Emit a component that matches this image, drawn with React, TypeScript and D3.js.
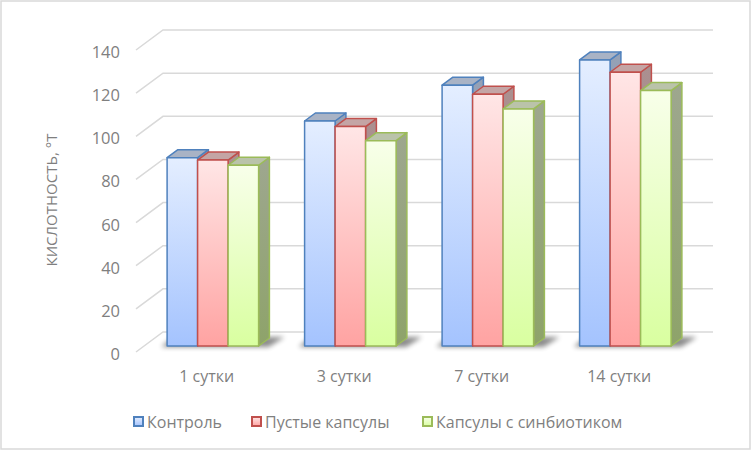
import * as d3 from 'd3';

// Chart data
const categories = ['1 сутки', '3 сутки', '7 сутки', '14 сутки'];
const seriesNames = ['Контроль', 'Пустые капсулы', 'Капсулы с синбиотиком'];
const control = [87.3, 104.3, 120.9, 132.6];
const emptyCapsules = [86.2, 101.7, 116.7, 126.9];
const synbiotic = [83.8, 95.2, 109.9, 118.4];
const yTicks = [0, 20, 40, 60, 80, 100, 120, 140];

const W = 752;
const H = 452;
const font = '"Open Sans", "Noto Sans", sans-serif';
const textColor = '#7f7f7f';
const gridColor = '#d9d9d9';

// depth of the 3d box (front plane -> back wall)
const depth = { dx: 27, dy: -20 };
const barFront = 0.3; // bar front face position inside the depth
const barDepth = 0.4; // bar thickness inside the depth

const styles = [
  { stroke: '#4f81bd', top: '#a9b3c5', side: ['#95a1b6', '#8898b4'], front: ['#e4eeff', '#a4c3fe'] },
  { stroke: '#c0504d', top: '#c4a5a5', side: ['#ab9090', '#a28686'], front: ['#ffe6e6', '#ffa3a2'] },
  { stroke: '#9bbb59', top: '#bac3aa', side: ['#9ea78f', '#8ea36a'], front: ['#f8ffea', '#d9ffa0'] },
];

export default function App() {
  const seriesValues = [control, emptyCapsules, synbiotic];

  const x0 = d3.scaleBand<string>().domain(categories).range([136, 686]);
  const x1 = d3.scaleBand<string>()
    .domain(seriesNames)
    .range([0, x0.bandwidth()])
    .paddingOuter(0.754);
  const y = d3.scaleLinear().domain([0, 140]).range([352, 50]);

  const fx = barFront * depth.dx;
  const fy = barFront * depth.dy;
  const bdx = barDepth * depth.dx;
  const bdy = barDepth * depth.dy;
  const bw = x1.bandwidth();

  return (
    <svg width={W} height={H} style={{ position: 'absolute', left: 0, top: 0 }}>
      <defs>
        {styles.map((s, i) => (
          <g key={i}>
            <linearGradient id={`front${i}`} x1="0" y1="0" x2="0" y2="1">
              <stop offset="0%" stopColor={s.front[0]} />
              <stop offset="100%" stopColor={s.front[1]} />
            </linearGradient>
            <linearGradient id={`side${i}`} x1="0" y1="0" x2="0" y2="1">
              <stop offset="0%" stopColor={s.side[0]} />
              <stop offset="100%" stopColor={s.side[1]} />
            </linearGradient>
          </g>
        ))}
        <filter id="shadowBlur" x="-20%" y="-100%" width="140%" height="300%">
          <feGaussianBlur stdDeviation="2.5" />
        </filter>
      </defs>

      <rect x={1} y={1} width={749} height={448} fill="#fff" stroke={gridColor} strokeWidth={1.5} />

      {/* gridlines: left diagonal + back wall */}
      {yTicks.map((t) => (
        <polyline
          key={t}
          points={`136,${y(t)} ${136 + depth.dx},${y(t) + depth.dy} 713,${y(t) + depth.dy}`}
          fill="none"
          stroke={gridColor}
          strokeWidth={1.5}
        />
      ))}

      {/* y tick labels */}
      {yTicks.map((t) => (
        <text key={t} x={120} y={y(t) + 1.5} textAnchor="end" dominantBaseline="central"
          fontFamily={font} fontSize={16.5} fill={textColor}>
          {t}
        </text>
      ))}

      <text transform="translate(51,200) rotate(-90)" textAnchor="middle" dominantBaseline="central"
        fontFamily={font} fontSize={15} fill={textColor}>
        КИСЛОТНОСТЬ, °Т
      </text>

      {/* floor shadows */}
      {categories.map((c) => {
        const left = (x0(c) ?? 0) + (x1(seriesNames[0]) ?? 0) + fx;
        const right = (x0(c) ?? 0) + (x1(seriesNames[2]) ?? 0) + bw + fx;
        const b = y(0) + fy;
        return (
          <polygon key={c} filter="url(#shadowBlur)" fill="#000" opacity={0.45}
            points={`${left - 6},${b + 1} ${right + 10},${b + 1} ${right + 26},${b - 9} ${left + 6},${b - 9}`} />
        );
      })}

      {/* bars */}
      {categories.map((c, ci) => (
        <g key={c}>
          {seriesNames.map((sName, si) => {
            const v = seriesValues[si][ci];
            const xl = (x0(c) ?? 0) + (x1(sName) ?? 0) + fx;
            const xr = xl + bw;
            const yt = y(v) + fy;
            const yb = y(0) + fy;
            const s = styles[si];
            return (
              <g key={sName} stroke={s.stroke} strokeWidth={1.5} strokeLinejoin="round">
                <polygon fill={`url(#side${si})`}
                  points={`${xr},${yt} ${xr + bdx},${yt + bdy} ${xr + bdx},${yb + bdy} ${xr},${yb}`} />
                <polygon fill={s.top}
                  points={`${xl},${yt} ${xr},${yt} ${xr + bdx},${yt + bdy} ${xl + bdx},${yt + bdy}`} />
                <rect x={xl} y={yt} width={bw} height={yb - yt} fill={`url(#front${si})`} />
              </g>
            );
          })}
        </g>
      ))}

      {/* category labels */}
      {categories.map((c) => (
        <text key={c} x={(x0(c) ?? 0) + x0.bandwidth() / 2 + 2} y={376} textAnchor="middle"
          dominantBaseline="central" fontFamily={font} fontSize={16} fill={textColor}>
          {c}
        </text>
      ))}

      {/* legend */}
      {seriesNames.map((sName, si) => {
        const lx = [133, 251, 422][si];
        return (
          <g key={sName}>
            <rect x={lx + 1} y={417} width={9} height={9} fill={`url(#front${si})`}
              stroke={styles[si].stroke} strokeWidth={2} />
            <text x={lx + 14} y={422} dominantBaseline="central" fontFamily={font} fontSize={16} fill={textColor}>
              {sName}
            </text>
          </g>
        );
      })}
    </svg>
  );
}
